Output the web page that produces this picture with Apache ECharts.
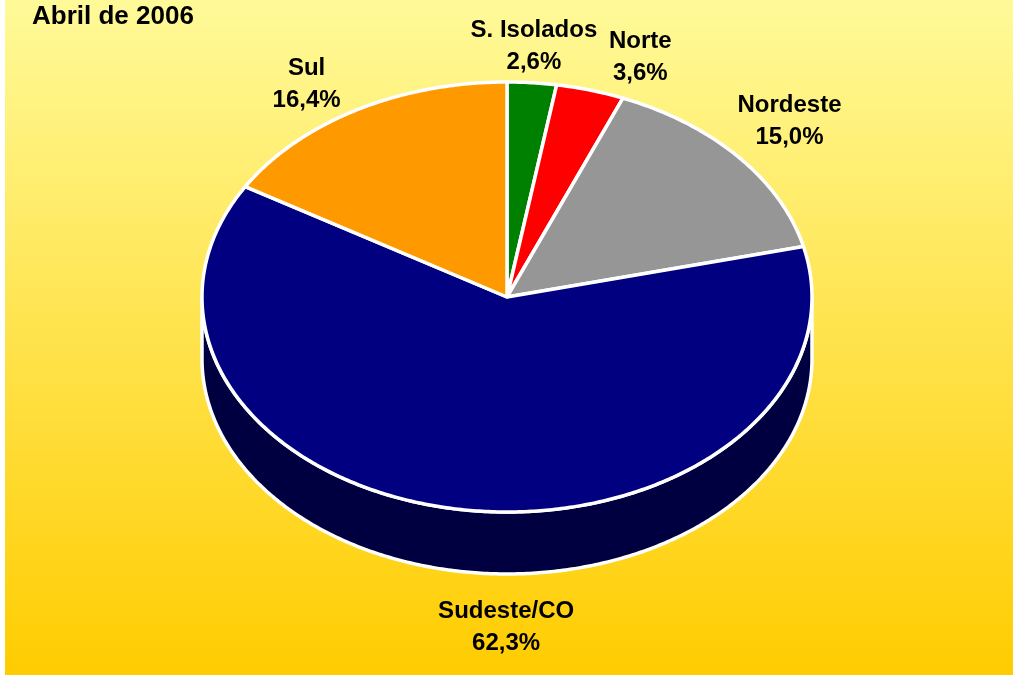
<!DOCTYPE html>
<html>
<head>
<meta charset="utf-8">
<script src="https://cdn.jsdelivr.net/npm/echarts@6/dist/echarts.min.js"></script>
<style>
  html, body { margin: 0; padding: 0; background: #fff; }
  #chart { width: 1013px; height: 675px; }
</style>
</head>
<body>
<div id="chart"></div>
<script>
// data
const categories = ['S. Isolados', 'Norte', 'Nordeste', 'Sudeste/CO', 'Sul'];
const shares = [2.6, 3.6, 15.0, 62.3, 16.4];

// styles / layout
const sliceColors = ['#008000', '#FF0000', '#969696', '#000080', '#FF9900'];
const wallColors = ['#004000', '#800000', '#4B4B4B', '#000040', '#804C00'];
const labelNudge = [[2, -36], [50, -33], [51, -36], [45, 56], [-50, -26]];

const chart = echarts.init(document.getElementById('chart'));
const total = shares.reduce((a, b) => a + b, 0);

function renderItem(params, api) {
  const i = params.dataIndex;
  const cx = 507, cy = 297, rx = 305, ry = 215, depth = 62;
  let before = 0;
  for (let k = 0; k < i; k++) before += shares[k];
  const a0 = before / total * Math.PI * 2;
  const a1 = (before + api.value(0)) / total * Math.PI * 2;
  const pt = (a, dy) => [cx + rx * Math.sin(a), cy - ry * Math.cos(a) + (dy || 0)];
  const arc = (s, e, dy) => {
    const n = Math.max(2, Math.ceil((e - s) / 0.01));
    const out = [];
    for (let j = 0; j <= n; j++) out.push(pt(s + (e - s) * j / n, dy));
    return out;
  };

  const children = [];
  // front wall
  const w0 = Math.max(a0, Math.PI / 2), w1 = Math.min(a1, Math.PI * 1.5);
  if (w1 > w0) {
    const upper = arc(w0, w1, 0);
    const lower = arc(w0, w1, depth).reverse();
    children.push({
      type: 'polygon',
      shape: { points: upper.concat(lower) },
      style: { fill: wallColors[i], stroke: '#fff', lineWidth: 3.5, lineJoin: 'round' }
    });
  }
  // top face
  children.push({
    type: 'polygon',
    shape: { points: [[cx, cy]].concat(arc(a0, a1, 0)) },
    style: { fill: sliceColors[i], stroke: '#fff', lineWidth: 3.5, lineJoin: 'round' }
  });
  // label
  const mid = (a0 + a1) / 2;
  const front = Math.cos(mid) < 0;
  const anchor = pt(mid, front ? depth : 0);
  children.push({
    type: 'text',
    z2: 10,
    style: {
      x: anchor[0] + labelNudge[i][0],
      y: anchor[1] + labelNudge[i][1],
      text: categories[i] + '\n' + api.value(0).toFixed(1).replace('.', ',') + '%',
      align: 'center',
      verticalAlign: 'middle',
      lineHeight: 32,
      font: 'bold 24px "Liberation Sans", Arial, sans-serif',
      fill: '#000'
    }
  });
  return { type: 'group', children: children };
}

const option = {
  backgroundColor: new echarts.graphic.LinearGradient(0, 0, 0, 1, [
    { offset: 0, color: '#FFFA99' },
    { offset: 1, color: '#FFCC00' }
  ]),
  title: {
    text: 'Abril de 2006',
    left: 32,
    top: 4,
    padding: 0,
    textStyle: {
      fontFamily: '"Liberation Sans", Arial, sans-serif',
      fontSize: 26,
      fontWeight: 'bold',
      color: '#000'
    }
  },
  graphic: [
    { type: 'rect', left: 0, top: 0, shape: { width: 5, height: 675 }, style: { fill: '#fff' } }
  ],
  series: [
    {
      type: 'custom',
      coordinateSystem: 'none',
      renderItem: renderItem,
      data: shares.map((v, i) => ({ name: categories[i], value: v }))
    }
  ]
};
chart.setOption(option);

window.addEventListener('resize', () => chart.resize());
</script>
</body>
</html>
